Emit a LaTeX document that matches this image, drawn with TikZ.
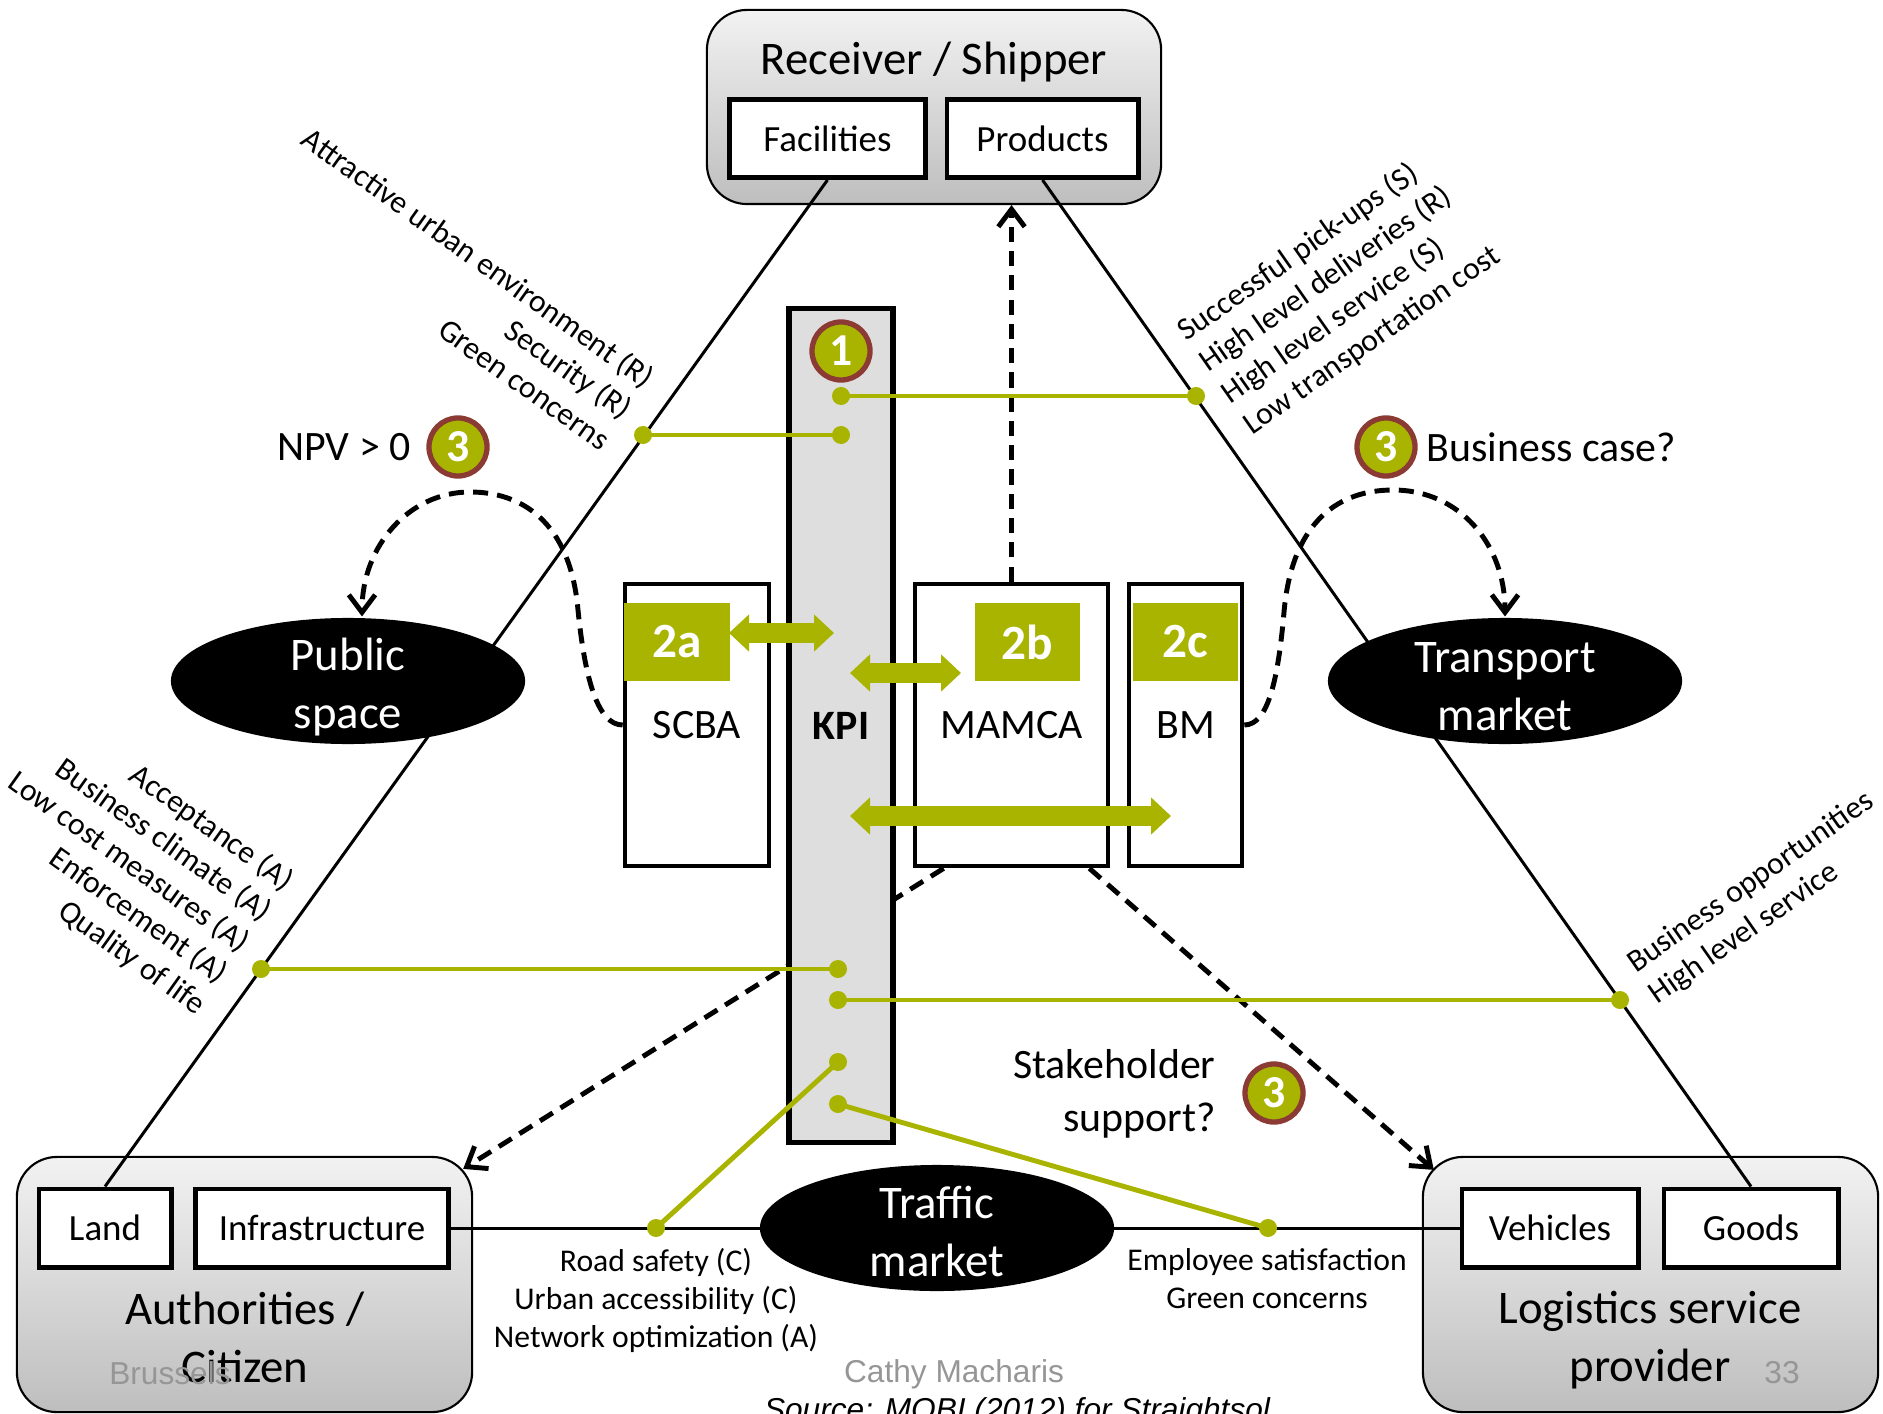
\documentclass[tikz,border=0pt]{standalone}
\usepackage{fontspec}
\setmainfont{Carlito}
\newfontfamily\arialfont{Liberation Sans}
\usetikzlibrary{arrows.meta}
\usetikzlibrary{shapes.geometric}
\usetikzlibrary{calc}
\definecolor{olive1}{RGB}{169, 180, 0}
\definecolor{brown1}{RGB}{140, 58, 52}
\definecolor{grey1}{RGB}{242, 242, 242}
\definecolor{grey2}{RGB}{190, 190, 190}
\definecolor{grey3}{RGB}{222, 222, 222}
\definecolor{grey4}{RGB}{150, 150, 150}

\begin{document}
\begin{tikzpicture}[x=0.01cm, y=-0.01cm, line width=0.85pt,
  actor/.style={draw, line width=0.6pt, rounded corners=0.4cm, top color=grey1, bottom color=grey2, minimum width=4.55cm, minimum height=2.55cm},
  asset/.style={draw, fill=white, line width=1.4pt, minimum height=0.78cm, inner sep=0pt, font=\fontsize{10.5}{12}\selectfont},
  method/.style={draw, fill=white, line width=1.3pt, minimum height=2.82cm, inner sep=0pt, font=\fontsize{11.9}{14}\selectfont},
  mtag/.style={fill=olive1, text=white, minimum width=1.05cm, minimum height=0.78cm, inner sep=0pt, font=\bfseries\fontsize{14}{16}\selectfont},
  market/.style={ellipse, fill=black, minimum width=3.54cm, minimum height=1.26cm, inner sep=0pt},
  bigtext/.style={inner sep=0pt, align=center, font=\fontsize{13.3}{16.5}\selectfont},
  midtext/.style={inner sep=0pt, font=\fontsize{11.9}{15}\selectfont},
  kpitext/.style={inner sep=0pt, font=\fontsize{9}{10.8}\selectfont},
  footer/.style={inner sep=0pt, text=grey4, font=\arialfont\fontsize{9}{11}\selectfont},
  badge/.style={circle, fill=olive1, draw=brown1, line width=1.5pt, minimum size=0.58cm, inner sep=0pt, text=white, font=\bfseries\fontsize{13}{15}\selectfont},
  kpiline/.style={draw=olive1, line width=1.4pt},
  dblarrow/.style={olive1, line width=0.2cm, {Triangle[length=0.2cm,width=0.36cm]}-{Triangle[length=0.2cm,width=0.36cm]}},
  dashedarrow/.style={dash pattern=on 4.3pt off 2.6pt, line width=1.4pt, -{Straight Barb[length=5pt,width=7.5pt]}}]
\useasboundingbox (0,0) rectangle (1883,1413);

% the three actors
\node[actor, minimum width=4.54cm, minimum height=1.94cm] (rs) at (934,107) {};
\node[bigtext] (rstitle) at (934,62) {Receiver / Shipper};
\node[asset, minimum width=1.95cm] (fac) at (827.5,138.5) {Facilities};
\node[asset, minimum width=1.91cm] (prod) at (1042.5,138.5) {Products};

\node[actor] (auth) at (244.5,1284.5) {};
\node[asset, minimum width=1.32cm] (land) at (105,1228) {Land};
\node[asset, minimum width=2.52cm] (infra) at (322,1228) {Infrastructure};
\node[bigtext] (authtitle) at (245,1337) {Authorities /\\Citizen};

\node[actor] (lsp) at (1650.5,1284.5) {};
\node[asset, minimum width=1.76cm] (veh) at (1550,1228) {Vehicles};
\node[asset, minimum width=1.74cm] (goods) at (1751,1228) {Goods};
\node[bigtext] (lsptitle) at (1650,1340) {Logistics service\\provider};

\foreach \from/\to in {fac.south/land.north, prod.south/goods.north, infra.east/veh.west}
  \draw (\from) -- (\to);

% methods
\node[method, minimum width=1.44cm] (scba) at (697,725) {SCBA};
\node[method, minimum width=1.93cm] (mamca) at (1011.5,725) {MAMCA};
\node[method, minimum width=1.13cm] (bm) at (1185.5,725) {BM};

\draw[dashedarrow] (mamca.north) -- (mamca.north |- rs.south);
\draw[dashedarrow] ($(mamca.south west)+(31,0)$) -- ($(auth.north east)+(-10,13)$);
\draw[dashedarrow] ($(mamca.south east)+(-21,0)$) -- ($(lsp.north west)+(12,14)$);

\node[draw, fill=grey3, line width=1.5pt, minimum width=1.04cm, minimum height=8.33cm, inner sep=0pt, font=\bfseries\fontsize{11.9}{14}\selectfont] (kpi) at (841,725.5) {KPI};

\node[mtag] (t2a) at (677,642) {2a};
\node[mtag] (t2b) at (1027.5,642) {2b};
\node[mtag] (t2c) at (1185.5,642) {2c};

\coordinate (da1) at (729,633);  \coordinate (da2) at (834,633);
\coordinate (db1) at (850,673);  \coordinate (db2) at (961,673);
\coordinate (dc1) at (850,816);  \coordinate (dc2) at (1171,816);
\foreach \from/\to in {da1/da2, db1/db2, dc1/dc2}
  \draw[dblarrow] (\from) -- (\to);

% kpi links
\coordinate (k1) at (841,396);
\coordinate (k2) at (841,435);
\coordinate (k3) at (838,969);
\coordinate (k4) at (838,1000);
\coordinate (k5) at (838,1062);
\coordinate (k6) at (838,1104);
\coordinate (p1) at (1196,396);
\coordinate (p2) at (643,435);
\coordinate (p3) at (261,969);
\coordinate (p4) at (1620,1000);
\coordinate (p5) at (656,1228);
\coordinate (p6) at (1268,1228);
\foreach \from/\to in {k1/p1, k2/p2, k3/p3, k4/p4, k5/p5, k6/p6}
  \draw[kpiline] (\from) -- (\to);
\foreach \p in {k1,k2,k3,k4,k5,k6,p1,p2,p3,p4,p5,p6}
  \fill[olive1] (\p) circle (0.09cm);

% markets
\node[market] (ps) at (348,681) {};
\node[market] (tm) at (1505,681) {};
\node[market] (traf) at (937,1228) {};
\node[bigtext, text=white] at ($(ps)+(0,6)$) {Public\\space};
\node[bigtext, text=white] at ($(tm)+(0,6)$) {Transport\\market};
\node[bigtext, text=white] at ($(traf)+(0,3)$) {Traffic\\market};

\draw[dashedarrow] (scba.west) .. controls (598,725) and (585,680) .. (578,610)
  .. controls (570,520) and (520,492) .. (470,492)
  .. controls (410,492) and (362,545) .. ($(ps.north)+(14,0)$);
\draw[dashedarrow] (bm.east) .. controls (1268,725) and (1278,680) .. (1284,612)
  .. controls (1292,520) and (1340,490) .. (1393,490)
  .. controls (1460,490) and (1505,545) .. (tm.north);

\node[badge] (b1) at (841,351) {1};
\node[badge] (b3a) at (458,447) {3};
\node[badge] (b3b) at (1386,447) {3};
\node[badge] (b3c) at (1274,1093) {3};
\node[midtext, anchor=east] (npv) at (412,447) {NPV > 0};
\node[midtext, anchor=west] (bcase) at (1425,447) {Business case?};
\node[midtext, anchor=east, align=right] (stake) at (1217,1094) {Stakeholder\\support?};

% criteria
\node[kpitext, rotate=-35.5, anchor=east, align=right] (crit1) at (630,412)
  {Attractive urban environment (R)\\Security (R)\\Green concerns};
\node[kpitext, rotate=35, anchor=west, align=left] (crit2) at (1213,382)
  {Successful pick-ups (S)\\High level deliveries (R)\\High level service (S)\\Low transportation cost};
\node[kpitext, rotate=-35.5, anchor=east, align=right] (crit3) at (247,947)
  {Acceptance (A)\\Business climate (A)\\Low cost measures (A)\\Enforcement (A)\\Quality of life};
\node[kpitext, rotate=35, anchor=west, align=left] (crit4) at (1641,983)
  {Business opportunities\\High level service};
\node[kpitext, align=center] (crit5) at (656,1300)
  {Road safety (C)\\Urban accessibility (C)\\Network optimization (A)};
\node[kpitext, align=center] (crit6) at (1267,1279)
  {Employee satisfaction\\Green concerns};

% slide footer
\node[footer] (place) at (170,1373) {Brussels};
\node[footer] (author) at (954,1374) {Cathy Macharis};
\node[footer] (page) at (1782,1373) {33};
\node[anchor=base, inner sep=0pt, font=\arialfont\itshape\fontsize{9}{11}\selectfont] (src) at (1017,1420) {Source: MOBI (2012) for Straightsol};
\end{tikzpicture}
\end{document}
